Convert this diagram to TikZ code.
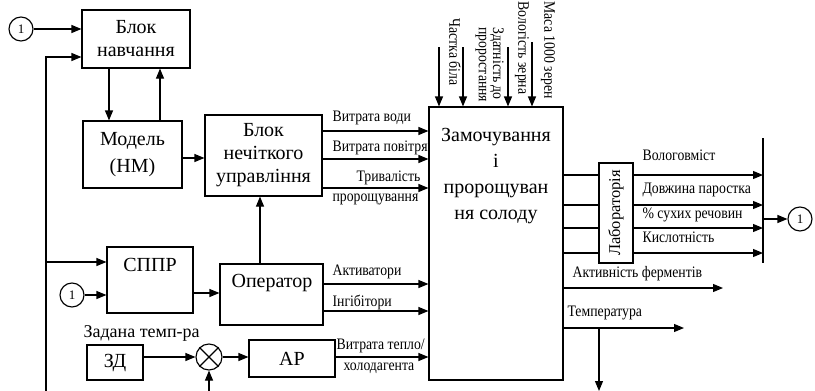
\documentclass[tikz,border=0pt]{standalone}
\usepackage{fontspec}
\setmainfont{Liberation Serif}
\newfontfamily\condf[FakeStretch=0.86]{Liberation Serif}
\usetikzlibrary{arrows.meta}
\begin{document}
\begin{tikzpicture}[x=1pt,y=-1pt,line width=1.15pt,
  >={Triangle[length=10pt,width=8pt]},
  box/.style={draw,rectangle,inner sep=0pt,align=center,font=\fontsize{20}{23}\selectfont},
  txt/.style={inner sep=0pt,align=center,font=\fontsize{20}{23}\selectfont},
  sig/.style={draw,circle,minimum size=24pt,inner sep=0pt,font=\fontsize{13}{13}\selectfont},
  lbl/.style={inner sep=0pt,anchor=west,font=\condf\fontsize{16}{16}\selectfont},
  vlbl/.style={inner sep=0pt,rotate=-90,anchor=west,font=\condf\fontsize{16}{16}\selectfont}]
\useasboundingbox (0,0) rectangle (815,391);
% blocks
\node[sig] (c1) at (21,29) {1};
\node[box,minimum width=108pt,minimum height=58pt] (bn) at (136,39) {Блок\\навчання};
\node[box,minimum width=99pt,minimum height=67pt,font=\fontsize{20}{27}\selectfont] (model) at (132.5,154.5) {Модель\\(НМ)};
\node[box,minimum width=117pt,minimum height=81pt] (bnu) at (263.5,155.5) {Блок\\нечіткого\\управління};
\node[box,minimum width=134pt,minimum height=273pt] (zam) at (496,243.5) {};
\node[txt,font=\fontsize{20}{26}\selectfont] (zamT) at (496,176) {Замочування\\і\\пророщуван\\ня солоду};
\node[box,minimum width=86pt,minimum height=66pt] (sppr) at (150,280) {};
\node[txt] (spprT) at (150,265) {СППР};
\node[sig] (c2) at (72,295) {1};
\node[box,minimum width=103pt,minimum height=61pt] (oper) at (271.5,294.5) {};
\node[txt] (operT) at (272,283) {Оператор};
\node[txt,anchor=west,font=\fontsize{18}{18}\selectfont] (zt) at (83,333) {Задана темп-ра};
\node[box,minimum width=56pt,minimum height=35pt] (zd) at (115,362.5) {ЗД};
\node[draw,circle,minimum size=26pt,inner sep=0pt] (cr) at (209,357) {};
\draw (cr.north east) -- (cr.south west) (cr.north west) -- (cr.south east);
\node[box,minimum width=86pt,minimum height=37pt] (ar) at (292,358.5) {АР};
\node[draw,minimum width=34pt,minimum height=100pt,inner sep=0pt] (lab) at (616,213) {};
\node[inner sep=0pt,rotate=90,font=\fontsize{16.5}{16.5}\selectfont] (labT) at (616,213) {Лабораторія};
\node[sig] (c3) at (800,219) {1};
% left connectors
\draw[->] (c1.east) -- (bn.west |- c1.east);
\coordinate (fbB) at (46,391);
\coordinate (fbT) at (46,57);
\coordinate (fbS) at (46,262);
\draw[->] (fbB) -- (fbT) -- (bn.west |- fbT);
\draw[->] (fbS) -- (sppr.west |- fbS);
\coordinate (xd) at (109,0);
\coordinate (xu) at (160,0);
\draw[->] (bn.south -| xd) -- (model.north -| xd);
\draw[->] (model.north -| xu) -- (bn.south -| xu);
\coordinate (y158) at (0,158);
\draw[->] (model.east |- y158) -- (bnu.west |- y158);
\foreach \yy in {131,159,188} {
  \coordinate (t) at (0,\yy);
  \draw[->] (bnu.east |- t) -- (zam.west |- t);
}
\coordinate (xo) at (260,0);
\draw[->] (oper.north -| xo) -- (bnu.south -| xo);
\draw[->] (c2.east) -- (sppr.west |- c2.east);
\coordinate (y293) at (0,293);
\draw[->] (sppr.east |- y293) -- (oper.west |- y293);
\foreach \yy in {284,311} {
  \coordinate (t) at (0,\yy);
  \draw[->] (oper.east |- t) -- (zam.west |- t);
}
\draw[->] (zd.east |- cr) -- (cr.west);
\draw[->] (cr.east) -- (ar.west |- cr);
\draw[->] (ar.east |- cr) -- (zam.west |- cr);
\coordinate (crB) at (209,391);
\draw[->] (crB) -- (cr.south);
% top inputs
\foreach \xx/\yy in {439/47,463/47,508/47,532/42} {
  \coordinate (t) at (\xx,\yy);
  \draw[->] (t) -- (zam.north -| t);
}
% outputs
\coordinate (barT) at (763,138);
\coordinate (barB) at (763,263);
\draw (barT) -- (barB);
\foreach \yy in {175,205,228,253} {
  \coordinate (t) at (0,\yy);
  \draw (zam.east |- t) -- (lab.west |- t);
  \draw[->] (lab.east |- t) -- (barT |- t);
}
\draw[->] (barT |- c3) -- (c3.west);
\coordinate (af) at (723,288);
\draw[->] (zam.east |- af) -- (af);
\coordinate (tp) at (684,328);
\draw[->] (zam.east |- tp) -- (tp);
\coordinate (tpS) at (599,328);
\coordinate (tpB) at (599,391);
\draw[->] (tpS) -- (tpB);
% labels
\node[vlbl] (v1) at (455,18) {Частка біла};
\node[vlbl] (v2) at (497,27) {Здатність до};
\node[vlbl] (v3) at (481,27) {проростання};
\node[vlbl] (v4) at (522,1) {Вологість зерна};
\node[vlbl] (v5) at (548,1) {Маса 1000 зерен};
\node[lbl] (l1) at (332,118) {Витрата води};
\node[lbl] (l2) at (332,148) {Витрата повітря};
\node[lbl] (l3) at (356,178) {Тривалість};
\node[lbl] (l4) at (332,199) {пророщування};
\node[lbl] (l5) at (332,272) {Активатори};
\node[lbl] (l6) at (332,302) {Інгібітори};
\node[lbl] (l7) at (336,346) {Витрата тепло/};
\node[lbl] (l8) at (343,368) {холодагента};
\node[lbl] (r1) at (642,155) {Вологовміст};
\node[lbl] (r2) at (642,190) {Довжина паростка};
\node[lbl] (r3) at (642,215) {\% сухих речовин};
\node[lbl] (r4) at (642,237) {Кислотність};
\node[lbl] (r5) at (572,274) {Активність ферментів};
\node[lbl] (r6) at (567,313) {Температура};
\end{tikzpicture}
\end{document}
